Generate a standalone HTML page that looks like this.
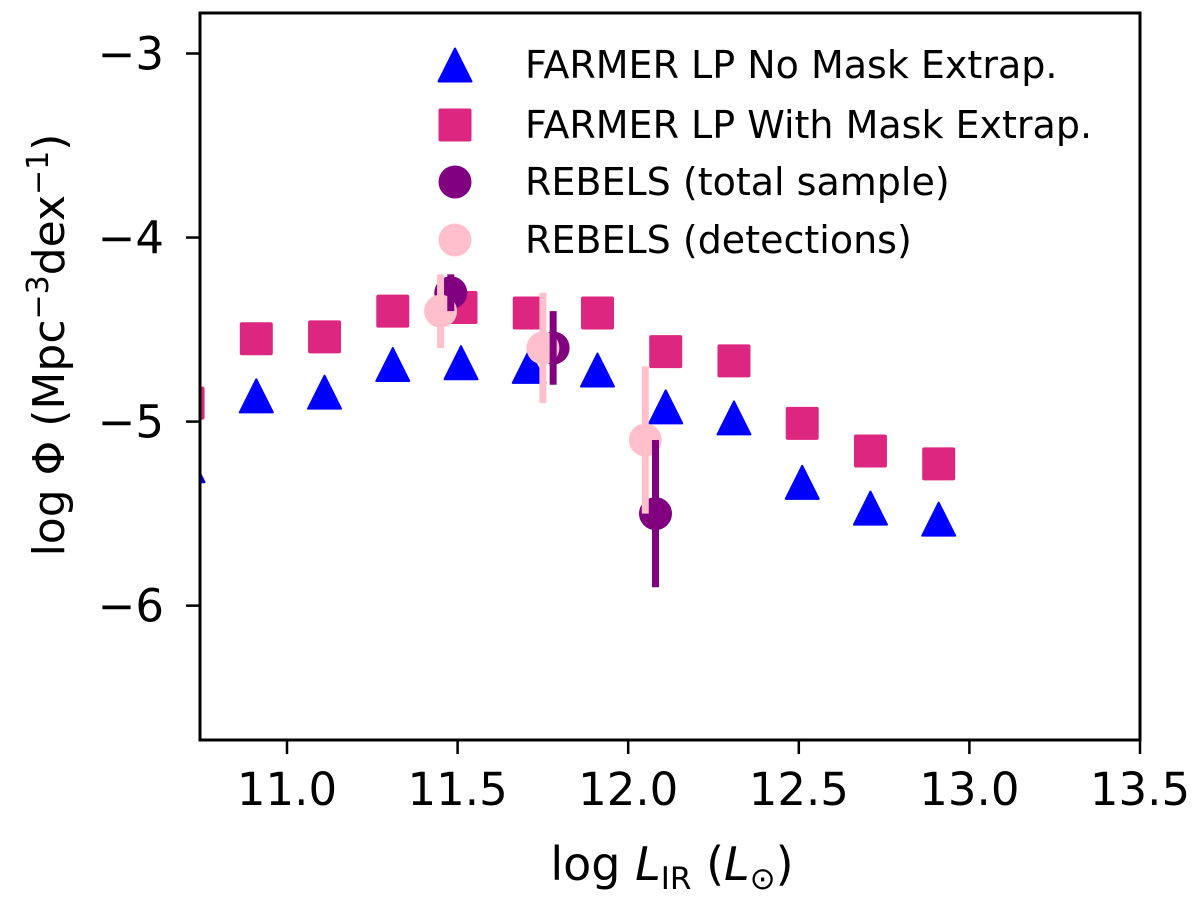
<!DOCTYPE html>
<html><head><meta charset="utf-8"><style>
html,body{margin:0;padding:0;background:#fff;}
svg{display:block;font-family:"DejaVu Sans","Liberation Sans",sans-serif;}
</style></head><body>
<svg id="chart" width="1200" height="898" xmlns="http://www.w3.org/2000/svg">
<g id="marks"></g>
<g id="axes"></g>
<g id="legend"></g>
</svg>
<script>
const xCenters = [10.71,10.91,11.11,11.31,11.51,11.71,11.91,12.11,12.31,12.51,12.71,12.91];
const noMaskVals = [-5.24,-4.86,-4.84,-4.69,-4.68,-4.70,-4.72,-4.92,-4.98,-5.33,-5.47,-5.53];
const withMaskVals = [-4.90,-4.55,-4.54,-4.40,-4.38,-4.41,-4.41,-4.62,-4.67,-5.01,-5.16,-5.23];
const totalX = [11.48,11.78,12.08];
const totalY = [-4.3,-4.6,-5.5];
const totalErr = [0.1,0.2,0.4];
const detX = [11.45,11.75,12.05];
const detY = [-4.4,-4.6,-5.1];
const detErr = [0.2,0.3,0.4];
const xTicks = [11.0,11.5,12.0,12.5,13.0,13.5];
const yTicks = [-3,-4,-5,-6];

const NS="http://www.w3.org/2000/svg";
const L=200,R=1140,T=13,B=740;
const X0=10.745,X1=13.5,Y0=-6.73,Y1=-2.78;
const sx=v=>L+(v-X0)/(X1-X0)*(R-L);
const sy=v=>B-(v-Y0)/(Y1-Y0)*(B-T);
function mk(tag,attrs,parent){const e=document.createElementNS(NS,tag);for(const k in attrs)e.setAttribute(k,attrs[k]);parent.appendChild(e);return e;}
const svg=document.getElementById('chart');
const defs=mk('defs',{},svg);
const cp=mk('clipPath',{id:'clip'},defs);
mk('rect',{x:L,y:T,width:R-L,height:B-T},cp);
const marks=document.getElementById('marks');
marks.setAttribute('clip-path','url(#clip)');
const S=33;
function tri(cx,cy,p,col){const h=S/2;const e=mk('polygon',{points:`${cx},${cy-h} ${cx-h},${cy+h} ${cx+h},${cy+h}`,fill:col,stroke:col,'stroke-width':2,'stroke-linejoin':'round'},p);return e;}
function sq(cx,cy,p,col){return mk('rect',{x:cx-S/2,y:cy-S/2,width:S,height:S,rx:2,fill:col},p);}
function circ(cx,cy,p,col){return mk('circle',{cx:cx,cy:cy,r:S/2,fill:col},p);}
function bar(x,y,e,p,col){return mk('line',{x1:x,x2:x,y1:sy(y+e),y2:sy(y-e),stroke:col,'stroke-width':7},p);}

xCenters.forEach((x,i)=>{
  const t=tri(sx(x),sy(noMaskVals[i]),marks,'#0000ff');
  
  
});
xCenters.forEach((x,i)=>{
  const s=sq(sx(x),sy(withMaskVals[i]),marks,'#dc267f');
  
  
});
totalX.forEach((x,i)=>{
  const c=circ(sx(x),sy(totalY[i]),marks,'#800080');
  
  
});
detX.forEach((x,i)=>{
  const b=bar(sx(x),detY[i],detErr[i],marks,'#ffc0cb');
  
  
  const c=circ(sx(x),sy(detY[i]),marks,'#ffc0cb');
  
  
});
totalX.forEach((x,i)=>{
  const b=bar(sx(x),totalY[i],totalErr[i],marks,'#800080');
  
  
});

const axes=document.getElementById('axes');
const frame=mk('rect',{x:L,y:T,width:R-L,height:B-T,fill:'none',stroke:'#000','stroke-width':3},axes);


xTicks.forEach(v=>{
  const x=sx(v);
  mk('line',{x1:x,x2:x,y1:B,y2:B+14,stroke:'#000','stroke-width':2.5},axes);
  const t=mk('text',{x:x,y:B+65,'text-anchor':'middle','font-size':45},axes);
  t.textContent=v.toFixed(1);
  
  
});
yTicks.forEach(v=>{
  const y=sy(v);
  mk('line',{x1:L-14,x2:L,y1:y,y2:y,stroke:'#000','stroke-width':2.5},axes);
  const t=mk('text',{x:L-36,y:y+16,'text-anchor':'end','font-size':45},axes);
  t.textContent='\u2212'+Math.abs(v);
  
  
});
const xl=mk('text',{x:672,y:880,'text-anchor':'middle','font-size':46},axes);
xl.innerHTML='log <tspan font-style="italic">L</tspan><tspan font-size="31" dy="9">IR</tspan><tspan dy="-9"> (</tspan><tspan font-style="italic">L</tspan><tspan font-size="31" dy="9">⊙</tspan><tspan dy="-9">)</tspan>';


const yl=mk('text',{x:0,y:0,'text-anchor':'middle','font-size':44,transform:'translate(64,345) rotate(-90)'},axes);
yl.innerHTML='log Φ (Mpc<tspan font-size="30" dy="-16">−3</tspan><tspan dy="16">dex</tspan><tspan font-size="30" dy="-16">−1</tspan><tspan dy="16">)</tspan>';



const leg=document.getElementById('legend');
const entries=[['FARMER LP No Mask Extrap.','tri','#0000ff',65],['FARMER LP With Mask Extrap.','sq','#dc267f',125],['REBELS (total sample)','circ','#800080',182],['REBELS (detections)','circ','#ffc0cb',240]];
entries.forEach(e=>{
  const g=mk('g',{},leg);
  
  
  if(e[1]==='tri')tri(455,e[3],g,e[2]);else if(e[1]==='sq')sq(455,e[3],g,e[2]);else circ(455,e[3],g,e[2]);
  const t=mk('text',{x:525,y:e[3]+13,'font-size':38},g);
  t.textContent=e[0];
});
</script>
</body></html>
